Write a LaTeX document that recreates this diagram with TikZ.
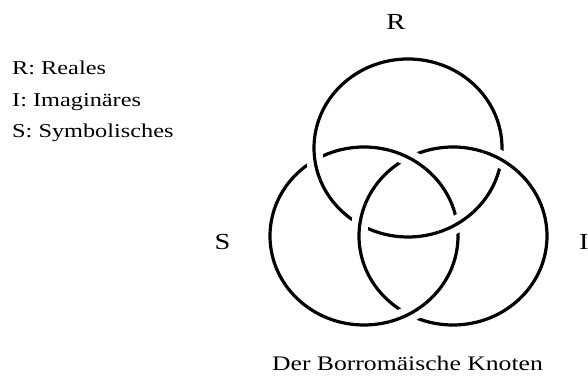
\documentclass[tikz,border=0pt]{standalone}
\usepackage{fontspec}
\setmainfont{Liberation Serif}[FakeStretch=1.24]
\begin{document}
\begin{tikzpicture}[x=1pt,y=1pt,
  ring/.style={line width=3.2pt},
  gapline/.style={white,line width=17pt},
  lbl/.style={font=\fontsize{23}{23}\selectfont,inner sep=0pt},
  legend/.style={font=\fontsize{19.6}{20}\selectfont,anchor=base west,inner sep=0pt}]
\useasboundingbox (0,0) rectangle (588,379);
% ring centres
\coordinate (cR) at (408,231);
\coordinate (cS) at (364,143);
\coordinate (cI) at (453,143);
\foreach \c in {cR,cS,cI}{
  \draw[ring] (\c) ellipse [x radius=94, y radius=89];
}
% over-crossings: R over S, S over I, I over R
\foreach \o/\x/\y in {cR/315/219, cR/457/155, cS/408.5/221, cS/408.5/65, cI/501/219, cI/360/155}{
  \begin{scope}
    \clip (\x,\y) circle (20);
    \draw[gapline] (\o) ellipse [x radius=94, y radius=89];
    \draw[ring] (\o) ellipse [x radius=94, y radius=89];
  \end{scope}
}
% legend
\node[legend] (legR) at (12,304) {R: Reales};
\node[legend] (legI) at (12,272.5) {I: Imaginäres};
\node[legend] (legS) at (12,241) {S: Symbolisches};
% ring labels
\node[lbl,anchor=base] (labR) at (396,349) {R};
\node[lbl,anchor=base] (labS) at (222.5,129) {S};
\node[lbl,anchor=base west] (labI) at (579,129) {I};
\node[font=\fontsize{20.7}{21}\selectfont,inner sep=0pt,anchor=base] (title) at (407.5,8) {Der Borromäische Knoten};
\end{tikzpicture}
\end{document}
